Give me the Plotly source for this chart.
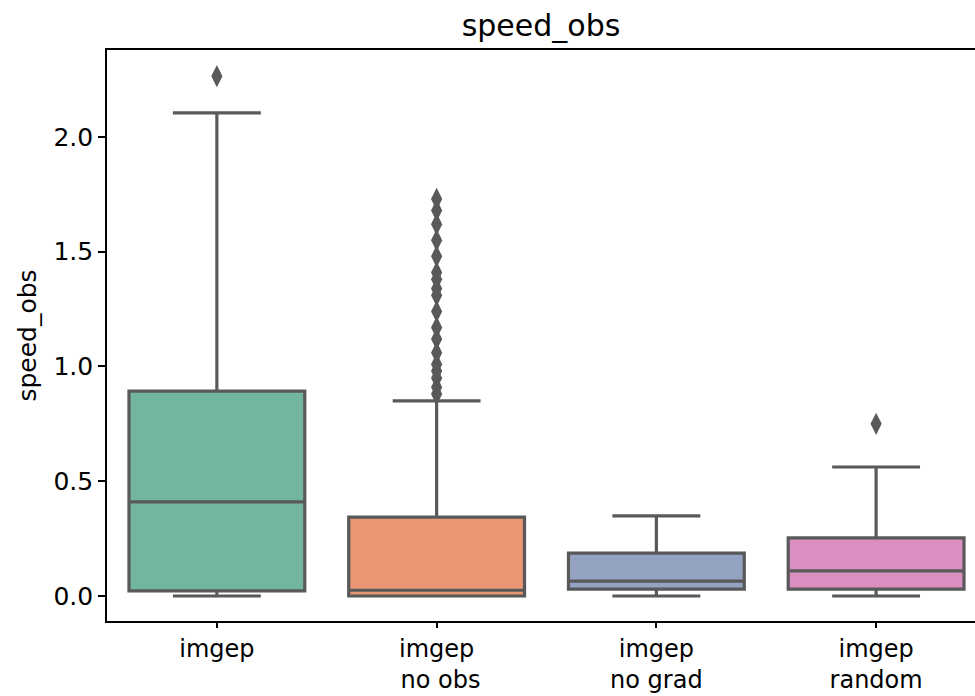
import plotly.graph_objects as go

categories = ["imgep", "imgep<br>\u00a0no obs", "imgep<br>no grad", "imgep<br>random"]
q1 = [0.022, 0.0, 0.03, 0.03]
median = [0.41, 0.025, 0.065, 0.109]
q3 = [0.893, 0.344, 0.187, 0.253]
lower_whisker = [0.0, 0.0, 0.0, 0.0]
upper_whisker = [2.105, 0.85, 0.349, 0.562]
outliers = [
    [2.265],
    [1.73, 1.68, 1.62, 1.55, 1.48, 1.41, 1.38, 1.34, 1.31, 1.24, 1.17, 1.12,
     1.06, 1.01, 0.98, 0.95, 0.91, 0.88],
    [],
    [0.75],
]
colors = ["#72b6a1", "#e99675", "#95a3c3", "#da8fc0"]
line_color = "#595959"

fig = go.Figure()
for i, cat in enumerate(categories):
    fig.add_trace(go.Box(
        x=[i], q1=[q1[i]], median=[median[i]], q3=[q3[i]],
        lowerfence=[lower_whisker[i]], upperfence=[upper_whisker[i]],
        width=0.8, whiskerwidth=0.5,
        fillcolor=colors[i], line=dict(color=line_color, width=3.2),
        boxpoints=False, showlegend=False, hoverinfo="skip",
    ))
    if outliers[i]:
        fig.add_trace(go.Scatter(
            x=[i] * len(outliers[i]), y=outliers[i], mode="markers",
            marker=dict(symbol="diamond-tall", size=16, color=line_color),
            showlegend=False, hoverinfo="skip",
        ))

font = "DejaVu Sans, sans-serif"
fig.update_layout(
    width=975, height=696,
    margin=dict(l=107, r=0, t=50, b=75, autoexpand=False),
    plot_bgcolor="white", paper_bgcolor="white",
    font=dict(family=font, size=25, color="#000000"),
    title=dict(text="speed_obs", x=0.5, xanchor="center", xref="paper",
               y=1 - 25 / 696, yanchor="middle", font=dict(size=30)),
    xaxis=dict(
        range=[-0.5, 3.45], tickmode="array", tickvals=list(range(4)),
        ticktext=categories, showgrid=False, zeroline=False,
        showline=True, linecolor="black", linewidth=1.7, mirror=True,
        ticks="outside", ticklen=5, tickcolor="black", tickwidth=1.5,
        tickfont=dict(size=24),
    ),
    yaxis=dict(
        range=[-0.109, 2.379], tickvals=[0, 0.5, 1.0, 1.5, 2.0],
        tickformat=".1f", showgrid=False, zeroline=False,
        showline=True, linecolor="black", linewidth=1.7,
        ticks="outside", ticklen=7, tickcolor="black", tickwidth=1.5,
        title=dict(text="speed_obs", font=dict(size=25), standoff=10),
    ),
)

fig.write_html(
    "out.html",
    config={"displayModeBar": False},
    post_script="document.body.style.margin='0';document.body.style.overflow='hidden';",
)
